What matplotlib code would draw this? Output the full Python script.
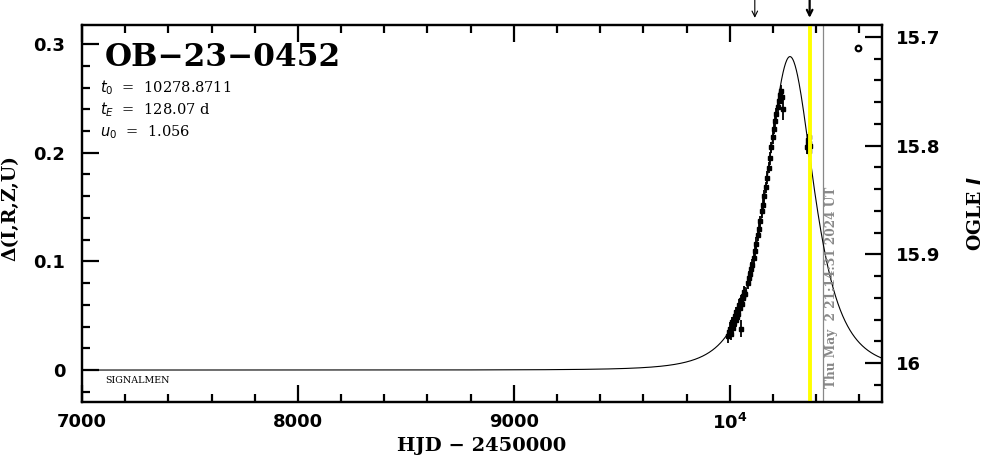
import numpy as np
import matplotlib
matplotlib.use('Agg')
import matplotlib.pyplot as plt
from matplotlib.ticker import MultipleLocator, FixedLocator

# event / fit parameters shown on the chart
event_name = 'OB\u221223\u22120452'
t0 = 10278.8711
tE = 128.07
u0 = 1.056
base_mag = 16.0065

# OGLE photometry (HJD - 2450000, delta mag, error)
hjd = [9993, 9998, 10003, 10006, 10009, 10012, 10015, 10018, 10021, 10024,
       10027, 10030, 10034, 10037, 10040, 10044, 10047, 10051, 10053, 10056,
       10060, 10063, 10067, 10071, 10085, 10090, 10094, 10099, 10104, 10110,
       10117, 10123, 10130, 10136, 10142, 10148, 10154, 10160, 10167, 10173,
       10180, 10186, 10193, 10199, 10205, 10211, 10216, 10222, 10227, 10232,
       10237, 10241, 10246,
       10359, 10361, 10363, 10365, 10367, 10369, 10371]
dmag = [0.031, 0.035, 0.038, 0.033, 0.041, 0.044, 0.039, 0.047, 0.043, 0.050,
        0.046, 0.053, 0.049, 0.056, 0.052, 0.060, 0.057, 0.038, 0.064, 0.061,
        0.068, 0.066, 0.072, 0.070, 0.080, 0.085, 0.088, 0.093, 0.097, 0.103,
        0.110, 0.116, 0.124, 0.130, 0.137, 0.146, 0.152, 0.160, 0.168, 0.177,
        0.186, 0.195, 0.205, 0.214, 0.222, 0.229, 0.236, 0.242, 0.248, 0.253,
        0.257, 0.251, 0.240,
        0.205, 0.212, 0.208, 0.214, 0.202, 0.209, 0.206]
derr = [0.006, 0.005, 0.006, 0.005, 0.006, 0.005, 0.006, 0.005, 0.006, 0.005,
        0.006, 0.005, 0.006, 0.005, 0.006, 0.005, 0.006, 0.008, 0.005, 0.006,
        0.005, 0.006, 0.005, 0.006, 0.005, 0.006, 0.005, 0.006, 0.005, 0.006,
        0.005, 0.006, 0.005, 0.006, 0.005, 0.006, 0.005, 0.006, 0.005, 0.006,
        0.005, 0.006, 0.005, 0.006, 0.005, 0.006, 0.005, 0.006, 0.005, 0.006,
        0.005, 0.006, 0.010,
        0.006, 0.005, 0.006, 0.005, 0.006, 0.005, 0.006]

last_obs = 10370
now_hjd = 10433
arrow_hjd = [10116, 10370]
now_text = 'Thu May  2 21:14:31 2024 UT'

xticks = [7000, 8000, 9000, 10000]
xticklabels = ['7000', '8000', '9000', '$\\mathbf{10^4}$']
yticks = [0, 0.1, 0.2, 0.3]
yticklabels = ['0', '0.1', '0.2', '0.3']
magticks = [15.7, 15.8, 15.9, 16.0]
magticklabels = ['15.7', '15.8', '15.9', '16']

xmin, xmax = 7000, 10705
ymin, ymax = -0.0294, 0.3175

# Paczynski model from the fitted parameters
t = np.linspace(xmin, xmax, 2000)
u = np.sqrt(u0 ** 2 + ((t - t0) / tE) ** 2)
A = (u ** 2 + 2) / (u * np.sqrt(u ** 2 + 4))
model = 2.5 * np.log10(A)

fig = plt.figure(figsize=(9.86, 4.59), dpi=100)
ax = fig.add_axes([0.0832, 0.1242, 0.8113, 0.8213])

ax.plot(t, model, color='black', lw=0.8, zorder=3)
ax.errorbar(hjd, dmag, yerr=derr, fmt='s', ms=2.8, color='black',
            ecolor='black', elinewidth=1.3, capsize=0, zorder=4)

ax.axvline(last_obs, color='#ffff00', lw=2.8, zorder=5)
ax.axvline(now_hjd, color='#888888', lw=0.9, zorder=2)
ax.text(now_hjd + 40, ymin + 0.013, now_text, rotation=90, ha='center', va='bottom',
        color='#888888', fontsize=8.7, fontweight='bold', family='DejaVu Serif')

ax.set_xlim(xmin, xmax)
ax.set_ylim(ymin, ymax)

ax.xaxis.set_major_locator(FixedLocator(xticks))
ax.set_xticklabels(xticklabels)
ax.xaxis.set_minor_locator(MultipleLocator(200))
ax.yaxis.set_major_locator(FixedLocator(yticks))
ax.set_yticklabels(yticklabels)
ax.yaxis.set_minor_locator(MultipleLocator(0.02))

for spine in ax.spines.values():
    spine.set_linewidth(1.6)

ax.tick_params(which='both', direction='in', top=True, bottom=True, left=True, right=False,
               width=1.6, labelsize=13)
ax.tick_params(which='major', length=12)
ax.tick_params(which='minor', length=6)
ax.tick_params(axis='x', pad=8)
ax.tick_params(axis='y', pad=12)
for lab in ax.get_xticklabels() + ax.get_yticklabels():
    lab.set_fontweight('bold')

ax.set_xlabel('HJD \u2212 2450000', family='DejaVu Serif', fontsize=14, fontweight='bold',
              labelpad=3)
ax.set_ylabel('\u0394(I,R,Z,U)', family='DejaVu Serif', fontsize=13.5, fontweight='bold')
ax.yaxis.set_label_coords(-0.078, 0.515)

# right magnitude axis
ax2 = ax.twinx()
ax2.set_ylim(base_mag - ymin, base_mag - ymax)
ax2.yaxis.set_major_locator(FixedLocator(magticks))
ax2.set_yticklabels(magticklabels)
ax2.yaxis.set_minor_locator(MultipleLocator(0.02))
ax2.tick_params(which='both', direction='in', right=True, left=False, width=1.6, labelsize=13,
                pad=10)
ax2.tick_params(which='major', length=12)
ax2.tick_params(which='minor', length=6)
for lab in ax2.get_yticklabels():
    lab.set_fontweight('bold')
for spine in ax2.spines.values():
    spine.set_linewidth(1.6)
ax2.set_ylabel('OGLE $\\mathbfit{I}$', family='DejaVu Serif', fontsize=13.5, fontweight='bold')
ax2.yaxis.set_label_coords(1.106, 0.5)

# labels inside the panel
ax.text(0.029, 0.955, event_name, transform=ax.transAxes, ha='left', va='top',
        family='DejaVu Serif', fontsize=22.5, fontweight='bold')
params = ['$t_0$  =  %.4f' % t0, '$t_E$  =  %.2f d' % tE, '$u_0$  =  %.3f' % u0]
for i, p in enumerate(params):
    ax.text(0.022, 0.835 - i * 0.06, p, transform=ax.transAxes, ha='left', va='center',
            family='DejaVu Serif', fontsize=10.5)
ax.text(0.029, 0.058, 'SIGNALMEN', transform=ax.transAxes, ha='left', va='center',
        family='DejaVu Serif', fontsize=6.8)
ax.plot([0.9695], [0.94], marker='o', ms=4, mfc='white', mec='black', mew=1.6,
        transform=ax.transAxes, clip_on=False)

# arrows above the frame
for k, xa in enumerate(arrow_hjd):
    ax.annotate('', xy=(xa, 1.019), xycoords=('data', 'axes fraction'),
                xytext=(xa, 1.066), textcoords=('data', 'axes fraction'),
                arrowprops=dict(arrowstyle='->', color='black', lw=0.8 if k == 0 else 1.6,
                                shrinkA=0, shrinkB=0), annotation_clip=False)

fig.savefig('out.png', dpi=100)
